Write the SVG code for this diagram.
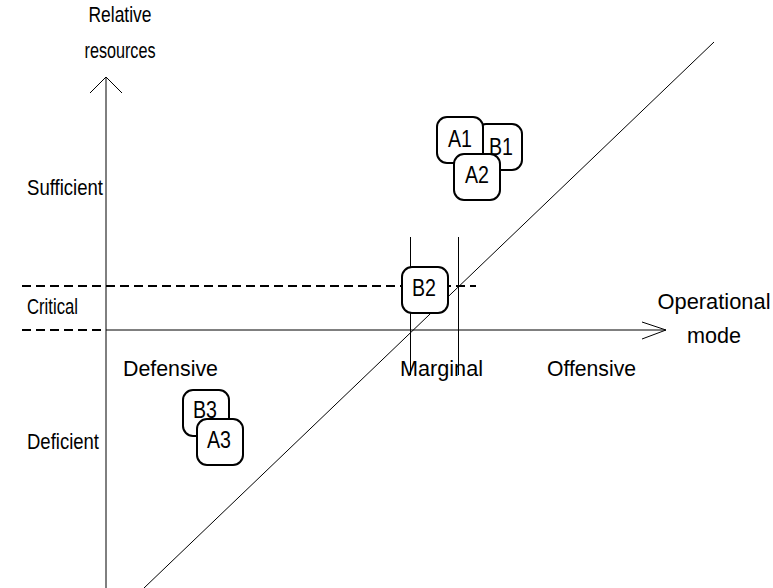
<svg xmlns="http://www.w3.org/2000/svg" width="773" height="588" viewBox="0 0 773 588">
<style>
text{font-family:"Liberation Sans",Arial,sans-serif;font-size:22px;fill:#000}
.ax{stroke:#000;stroke-width:1;fill:none}
.dash{stroke:#000;stroke-width:2;stroke-dasharray:9,5;fill:none}
.box rect{fill:#fff;stroke:#000;stroke-width:2}
.box text{font-size:23px;text-anchor:middle}
.mid{text-anchor:middle}
</style>
<rect width="773" height="588" fill="#fff"/>
<g id="connectors">
<line class="ax" x1="144" y1="588" x2="714" y2="42"/>
<line class="ax" x1="106" y1="588" x2="106" y2="77"/>
<polyline class="ax" points="90,93 106,77 122,93"/>
<line class="ax" x1="106" y1="330" x2="666" y2="330"/>
<polyline class="ax" points="642,322 666,330 642,339"/>
<line class="dash" x1="22" y1="286" x2="476" y2="286"/>
<line class="dash" x1="22" y1="330" x2="106" y2="330"/>
<line class="ax" x1="410.5" y1="237" x2="410.5" y2="375"/>
<line class="ax" x1="458.5" y1="237" x2="458.5" y2="375"/>
</g>
<g id="labels">
<text class="mid" x="120" y="22" textLength="63" lengthAdjust="spacingAndGlyphs">Relative</text>
<text class="mid" x="120" y="58" textLength="71" lengthAdjust="spacingAndGlyphs">resources</text>
<text x="27" y="195" textLength="76" lengthAdjust="spacingAndGlyphs">Sufficient</text>
<text x="27" y="314" textLength="51" lengthAdjust="spacingAndGlyphs">Critical</text>
<text x="27" y="449" textLength="72" lengthAdjust="spacingAndGlyphs">Deficient</text>
<text x="123" y="376" textLength="95" lengthAdjust="spacingAndGlyphs">Defensive</text>
<text x="400" y="376" textLength="83" lengthAdjust="spacingAndGlyphs">Marginal</text>
<text x="547" y="376" textLength="89" lengthAdjust="spacingAndGlyphs">Offensive</text>
<text class="mid" x="714" y="309" textLength="113" lengthAdjust="spacingAndGlyphs">Operational</text>
<text class="mid" x="714" y="343" textLength="54" lengthAdjust="spacingAndGlyphs">mode</text>
</g>
<g id="B1" class="box"><rect x="476" y="124" width="46" height="46" rx="10"/><text x="501" y="155" textLength="24" lengthAdjust="spacingAndGlyphs">B1</text></g>
<g id="A1" class="box"><rect x="437" y="117" width="46" height="46" rx="10"/><text x="460" y="147" textLength="24" lengthAdjust="spacingAndGlyphs">A1</text></g>
<g id="A2" class="box"><rect x="454" y="154" width="46" height="46" rx="10"/><text x="477" y="183" textLength="24" lengthAdjust="spacingAndGlyphs">A2</text></g>
<g id="B2" class="box"><rect x="402" y="267" width="46" height="46" rx="10"/><text x="424" y="296" textLength="24" lengthAdjust="spacingAndGlyphs">B2</text></g>
<g id="B3" class="box"><rect x="183" y="390" width="46" height="46" rx="10"/><text x="205" y="418" textLength="24" lengthAdjust="spacingAndGlyphs">B3</text></g>
<g id="A3" class="box"><rect x="197" y="419" width="46" height="46" rx="10"/><text x="219" y="448" textLength="24" lengthAdjust="spacingAndGlyphs">A3</text></g>
</svg>
